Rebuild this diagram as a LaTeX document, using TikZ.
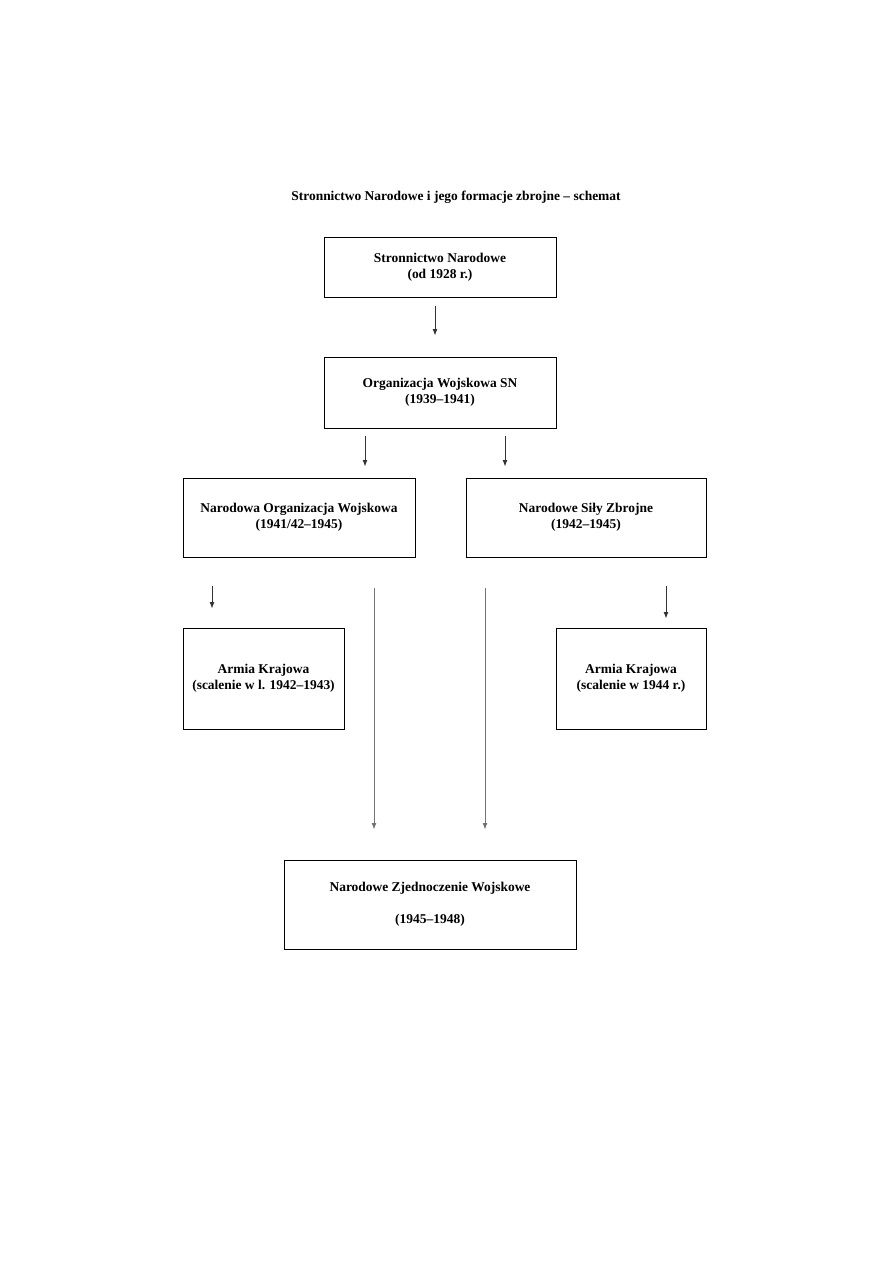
\documentclass[tikz,border=0pt]{standalone}
\usepackage{fontspec}
\setmainfont{Liberation Serif}
\usetikzlibrary{arrows.meta,positioning,calc}
\newlength\pxu
\setlength\pxu{0.235mm}

\begin{document}
\begin{tikzpicture}[
  x=\pxu,y=-\pxu,
  box/.style 2 args={draw,line width=0.6pt,align=center,inner sep=0pt,
    minimum width=#1\pxu,minimum height=#2\pxu,
    font=\bfseries\fontsize{9}{10.7}\selectfont},
  arrow/.style={-{Latex[length=1.5mm,width=1.1mm]},line width=0.5pt,draw=black!80},
  longarrow/.style={arrow,draw=black!55}
]
\useasboundingbox (0,0) rectangle (893,1263);

\node[font=\bfseries\fontsize{9}{10.7}\selectfont] (title) at (456,197)
  {Stronnictwo Narodowe i jego formacje zbrojne -- schemat};

\node[box={232}{60}] (sn) at (440,267) {Stronnictwo Narodowe\\(od 1928 r.)};
\node[box={232}{71}] (ow) at (440,392.5) {Organizacja Wojskowa SN\\(1939--1941)};
\node[box={232}{79}] (now) at (299,517.5) {Narodowa Organizacja Wojskowa\\(1941/42--1945)};
\node[box={240}{79}] (nsz) at (586,517.5) {Narodowe Siły Zbrojne\\(1942--1945)};
\node[box={161}{101}] (akl) at (263.5,678.5) {Armia Krajowa\\(scalenie w l. 1942--1943)};
\node[box={150}{101}] (akr) at (631,678.5) {Armia Krajowa\\(scalenie w 1944 r.)};
\node[box={292}{89}] (nzw) at (430,904.5) {Narodowe Zjednoczenie Wojskowe\\[10.7pt](1945--1948)};

% strzalki
\draw[arrow,shorten <=9\pxu,shorten >=21\pxu] ($(sn.south)+(-5,0)$) -- ($(ow.north)+(-5,0)$);
\draw[arrow,shorten <=8\pxu,shorten >=11\pxu] ($(ow.south)+(-75,0)$) -- ($(now.north)+(66,0)$);
\draw[arrow,shorten <=8\pxu,shorten >=11\pxu] ($(ow.south)+(65,0)$) -- ($(nsz.north)+(-81,0)$);
\draw[arrow,shorten <=29\pxu,shorten >=19\pxu] ($(now.south)+(-87,0)$) -- ($(akl.north)+(-51.5,0)$);
\draw[arrow,shorten <=29\pxu,shorten >=9\pxu] ($(nsz.south)+(80,0)$) -- ($(akr.north)+(35,0)$);
\draw[longarrow,shorten <=31\pxu,shorten >=30\pxu] ($(now.south)+(75,0)$) -- ($(nzw.north)+(-56,0)$);
\draw[longarrow,shorten <=31\pxu,shorten >=30\pxu] ($(nsz.south)+(-101,0)$) -- ($(nzw.north)+(55,0)$);
\end{tikzpicture}
\end{document}
